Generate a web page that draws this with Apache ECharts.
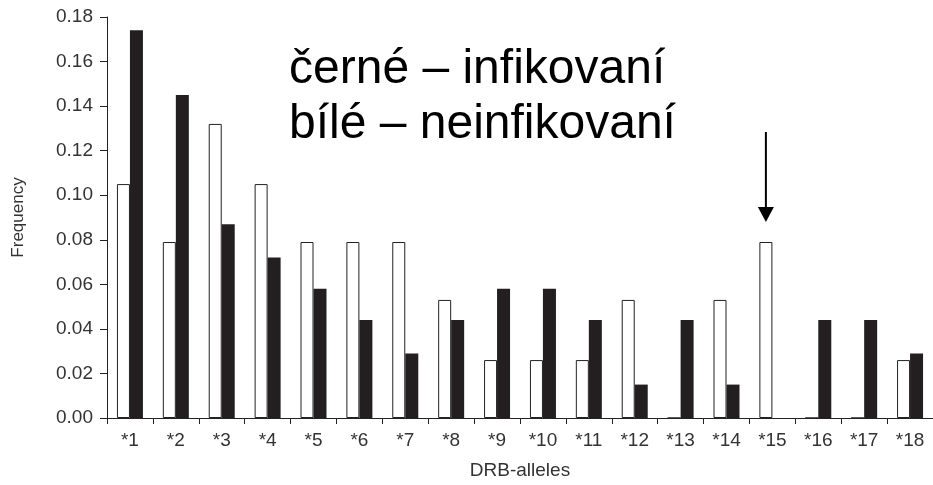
<!DOCTYPE html>
<html>
<head>
<meta charset="utf-8">
<script src="https://cdn.jsdelivr.net/npm/echarts@6/dist/echarts.min.js"></script>
<style>
html,body{margin:0;padding:0;background:#fff;}
#chart{width:933px;height:485px;}
</style>
</head>
<body>
<div id="chart"></div>
<script>
var categories = ['*1','*2','*3','*4','*5','*6','*7','*8','*9','*10','*11','*12','*13','*14','*15','*16','*17','*18'];
var uninfected = [0.105,0.079,0.132,0.105,0.079,0.079,0.079,0.053,0.026,0.026,0.026,0.053,0,0.053,0.079,0,0,0.026];
var infected   = [0.174,0.145,0.087,0.072,0.058,0.044,0.029,0.044,0.058,0.058,0.044,0.015,0.044,0.015,0,0.044,0.044,0.029];
var annotationLines = ['černé – infikovaní', 'bílé – neinfikovaní'];
var arrowCategory = '*15';

var FONT = 'Liberation Sans, Arial, sans-serif';
var chart = echarts.init(document.getElementById('chart'), null, {renderer:'canvas'});
var option = {
  animation: false,
  backgroundColor: '#fff',
  grid: {left: 107, top: 17, width: 828, height: 402, containLabel: false},
  xAxis: {
    type: 'category',
    data: categories,
    name: 'DRB-alleles',
    nameLocation: 'middle',
    nameGap: 43,
    nameTextStyle: {fontFamily: FONT, fontSize: 19, color: '#333'},
    axisLine: {lineStyle: {color: '#222', width: 1}},
    axisTick: {show: true, interval: 0, length: 6, lineStyle: {color: '#222'}},
    axisLabel: {interval: 0, margin: 13, fontFamily: FONT, fontSize: 19, color: '#333'}
  },
  yAxis: {
    type: 'value',
    min: 0, max: 0.18, interval: 0.02,
    name: 'Frequency',
    nameLocation: 'middle',
    nameGap: 80,
    nameRotate: 90,
    nameTextStyle: {fontFamily: FONT, fontSize: 17, color: '#333'},
    axisLine: {show: true, lineStyle: {color: '#222', width: 1}},
    axisTick: {show: true, length: 7, lineStyle: {color: '#222'}},
    splitLine: {show: false},
    axisLabel: {margin: 14, fontFamily: FONT, fontSize: 19, color: '#333',
      formatter: function(v){ return v.toFixed(2); }}
  },
  series: [
    {type: 'bar', name: 'neinfikovaní', data: uninfected, barWidth: 13, barGap: '0%',
     itemStyle: {color: '#fff', borderColor: '#222', borderWidth: 1}},
    {type: 'bar', name: 'infikovaní', data: infected, barWidth: 13, barGap: '0%',
     itemStyle: {color: '#231f20'}}
  ]
};
chart.setOption(option);

// annotation positioned from the scale of the chart
var idx = categories.indexOf(arrowCategory);
var layout = chart.getModel().getSeriesByIndex(0).getData().getItemLayout(idx);
var ax = layout.x + layout.width / 2;
var barTop = layout.y + layout.height;
var topY = Math.min(layout.y, barTop);
var tipY = topY - 20;
chart.setOption({
  graphic: [
    {type: 'text', left: 289, top: 42,
     style: {text: annotationLines.join('\n'), font: '48px ' + FONT, fill: '#000', lineHeight: 55}},
    {type: 'line', shape: {x1: ax, y1: tipY - 90, x2: ax, y2: tipY - 12},
     style: {stroke: '#000', lineWidth: 2}},
    {type: 'polygon', shape: {points: [[ax - 8, tipY - 15], [ax + 8, tipY - 15], [ax, tipY]]},
     style: {fill: '#000'}}
  ]
});
</script>
</body>
</html>
